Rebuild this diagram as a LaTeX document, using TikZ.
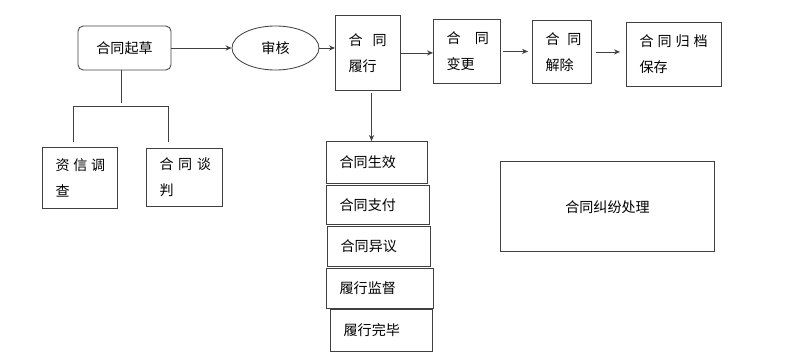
\documentclass[tikz,border=0pt]{standalone}
\usepackage{fontspec}
\newfontfamily\cjk{Noto Sans CJK SC}
\usetikzlibrary{arrows.meta, shapes.geometric}
\definecolor{lineGrey}{HTML}{404040}
\tikzset{
  box/.style   = {draw=lineGrey, line width=0.6pt, rectangle, anchor=north west,
                  inner xsep=3.3mm, inner ysep=0pt, align=left,
                  font=\cjk\fontsize{10}{18.5}\selectfont},
  cbox/.style  = {box, anchor=center, align=center, inner sep=0pt},
  arr/.style   = {-{Stealth[length=1.5mm, width=1.3mm]}, line width=0.6pt, lineGrey},
  link/.style  = {line width=0.6pt, lineGrey},
}

\begin{document}
\begin{tikzpicture}[x=0.025cm, y=-0.025cm]
  \useasboundingbox (0,0) rectangle (800,361);

  % top row
  \node[cbox, rounded corners=1.3mm, minimum width=23.25mm, minimum height=11mm]
    (draft) at (124.5,48) {合同起草};
  \node[draw=lineGrey, ellipse, line width=0.6pt, inner sep=0pt,
        minimum width=21.75mm, minimum height=11mm, font=\cjk\fontsize{10}{12}\selectfont]
    (review) at (275.5,48) {审核};
  \node[box, text width=9.65mm,  minimum height=18.75mm] (perform)   at (335,15)
    {\mbox{合\hspace{7pt}同}\\履行};
  \node[box, text width=10.15mm, minimum height=16mm]    (change)    at (433,19)
    {\mbox{合\hspace{10pt}同}\\变更};
  \node[box, text width=8.15mm,  minimum height=15.75mm] (terminate) at (532,20)
    {\mbox{合\hspace{5.5pt}同}\\解除};
  \node[box, text width=17.15mm, minimum height=16mm]    (archive)   at (626,22)
    {\mbox{合\hspace{2.8pt}同\hspace{2.8pt}归\hspace{2.8pt}档}\\保存};

  \draw[arr] (draft.east) -- (review.west);
  \draw[arr] (review.east) -- (review.east -| perform.west);
  \draw[arr] (perform.east) -- (perform.east -| change.west);
  \draw[arr, shorten <=0.5mm, shorten >=1mm] (change.east) -- (change.east -| terminate.west);
  \draw[arr, shorten <=1mm, shorten >=1.5mm] (terminate.east) -- (terminate.east -| archive.west);

  % drafting branches
  \node[box, text width=12.15mm, minimum height=15.25mm] (credit) at (42,147)
    {\mbox{资\hspace{2.6pt}信\hspace{2.6pt}调}\\查};
  \node[box, text width=12.4mm,  minimum height=14.5mm]  (talk)   at (146,148)
    {\mbox{合\hspace{3.2pt}同\hspace{3.2pt}谈}\\判};

  \coordinate (fork)  at (121,102.7);
  \coordinate (forkL) at (73,106);
  \coordinate (forkR) at (168,106);
  \coordinate (legL)  at (73,142);
  \coordinate (legR)  at (168,142);
  \draw[link] (draft.south -| fork) -- (fork);
  \draw[link] (legL) -- (forkL) -- (forkR) -- (legR);

  % performance steps
  \node[box, text width=18.65mm, minimum height=10.5mm]  (effect)    at (326,141) {合同生效};
  \node[box, text width=19.15mm, minimum height=9.75mm]  (pay)       at (326,185) {合同支付};
  \node[box, text width=19.15mm, minimum height=10mm]    (objection) at (327,226) {合同异议};
  \node[box, text width=20.15mm, minimum height=10mm]    (supervise) at (326,268) {履行监督};
  \node[box, text width=18.9mm,  minimum height=10.5mm]  (finish)    at (330,309) {履行完毕};

  \draw[arr, shorten <=0.5mm] ([xshift=0.9mm]perform.south) -- ([xshift=0.9mm]perform.south |- effect.north);

  \node[cbox, minimum width=53.5mm, minimum height=22.5mm] (dispute) at (607.5,206.7) {合同纠纷处理};
\end{tikzpicture}
\end{document}
